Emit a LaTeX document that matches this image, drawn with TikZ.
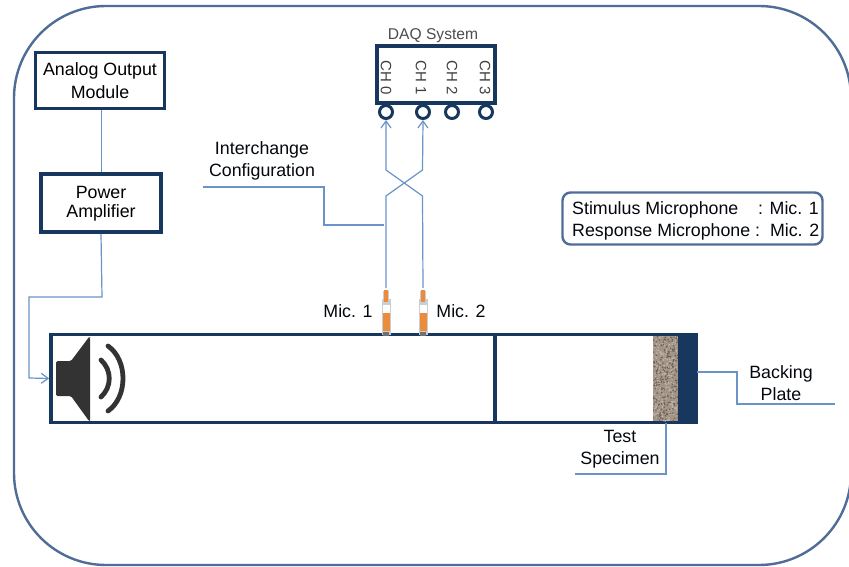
\documentclass[tikz,border=0pt]{standalone}
\usepackage{fontspec}
\setmainfont{Liberation Sans}
\usetikzlibrary{arrows.meta,calc}
\definecolor{navy}{HTML}{17375E}
\definecolor{frameblue}{HTML}{4F6D97}
\definecolor{wire}{HTML}{6A93C8}
\definecolor{mico}{HTML}{EC8B3C}
\definecolor{micg}{HTML}{C9CED3}
\definecolor{spk}{HTML}{333333}
\definecolor{specbase}{HTML}{A39485}
\tikzset{
  box/.style={draw=navy,line width=3.6pt,fill=white,minimum width=#1,inner sep=0pt,align=center,font=\fontsize{17.8}{22}\selectfont},
  conn/.style={draw=wire,line width=1.2pt},
  lab/.style={align=center,inner sep=0pt,text=black!85!navy,font=\fontsize{17.8}{22}\selectfont},
  chlab/.style={inner sep=0pt,rotate=-90,text=black!75,font=\fontsize{15}{16}\selectfont},
  port/.style={circle,draw=navy,line width=3pt,fill=white,minimum size=13pt,inner sep=0pt},
  arr/.style={-{Straight Barb[length=7pt,width=10pt,line width=1.2pt]}}
}
\begin{document}
\begin{tikzpicture}[x=1pt,y=-1pt]
\useasboundingbox (0,0) rectangle (849,567);
\fill[white] (0,0) rectangle (849,567);
% outer frame
\draw[frameblue,line width=2.4pt,rounded corners=92pt] (14,6) rectangle (851,565);
% boxes
\node[box=129pt,minimum height=56pt] (aom) at (100,80.5) {\raisebox{-1.5pt}{\shortstack[c]{\rule{0pt}{13pt}Analog Output\\[3pt]Module}}};
\node[box=120pt,minimum height=58pt] (amp) at (101,203) {\raisebox{-1.5pt}{\shortstack[c]{\rule{0pt}{13pt}Power\\[3pt]Amplifier}}};
\node[draw=navy,line width=3.6pt,fill=white,minimum width=118pt,minimum height=57pt,inner sep=0pt] (daq) at (436,74.5) {};
\node[lab,text=black!70,font=\fontsize{15.6}{16}\selectfont] (daqt) at (433,36) {DAQ System};
\node[chlab] (c0t) at (386,78) {CH 0};
\node[chlab] (c1t) at (421,78) {CH 1};
\node[chlab] (c2t) at (452,78) {CH 2};
\node[chlab] (c3t) at (485,78) {CH 3};
\node[port] (c0) at (386,112) {};
\node[port] (c1) at (423,112) {};
\node[port] (c2) at (452,112) {};
\node[port] (c3) at (486,112) {};
% legend
\node[draw=frameblue,line width=2.4pt,rounded corners=8pt,minimum width=260pt,minimum height=52pt,inner sep=0pt] (leg) at (692.5,218.5) {};
\node[lab,anchor=west,align=left] (legt) at (572,220.5) {Stimulus Microphone\ \ \ \ : Mic. 1\\Response Microphone :\ \ Mic. 2};
% tube
\node[draw=navy,line width=3.6pt,minimum width=645pt,minimum height=88pt,inner sep=0pt] (tube) at (373.5,378.5) {};
\coordinate (divt) at (495,334);
\coordinate (divb) at (495,423);
\draw[navy,line width=3.2pt] (divt) -- (divb);
% specimen
\begin{scope}
\clip (653,336) rectangle (678,421);
\fill[specbase] (653,336) rectangle (678,421);
\pgfmathsetseed{7}
\foreach \i in {1,...,420}{
  \pgfmathsetmacro{\px}{653+25*rnd}
  \pgfmathsetmacro{\py}{336+85*rnd}
  \pgfmathsetmacro{\sh}{rnd}
  \ifdim\sh pt<0.5pt
    \fill[black!35!specbase] (\px,\py) circle (0.9pt);
  \else
    \fill[white!30!specbase] (\px,\py) circle (0.9pt);
  \fi
}
\end{scope}
\fill[navy] (678,332.7) rectangle (697,424.3);
% speaker
\fill[spk,rounded corners=1.5pt] (56,361) -- (71,361) -- (89,337) -- (90,337) -- (90,421) -- (89,421) -- (71,396) -- (56,396) -- cycle;
\draw[spk,line width=4.8pt,line cap=round] (101,360) .. controls (112,370) and (112,387) .. (101,397);
\draw[spk,line width=4.8pt,line cap=round] (108,346) .. controls (128,360) and (128,397) .. (108,411);
% connectors
\coordinate (t1) at (102,297);
\coordinate (t2) at (29,297);
\coordinate (t3) at (29,378);
\draw[conn,line width=1pt] (aom.south -| amp.north) -- (amp.north);
\draw[conn,arr] (amp.south) -- (t1) -- (t2) -- (t3) -- (tube.west);
% microphones
\foreach \n/\x in {m1/386,m2/423}{
  \fill[micg] (\x-3,291) rectangle (\x+3,334);
  \fill[mico] (\x-2,290) rectangle (\x+1.5,303);
  \fill[micg] (\x-4.5,299) rectangle (\x+4.5,335);
  \fill[white] (\x-3.5,305) rectangle (\x+3.5,313);
  \fill[mico] (\x-3.5,313) rectangle (\x+3.5,331);
  \fill[mico] (\x-2,296) rectangle (\x+2,302);
  \fill[black!45!micg] (\x-3,332) rectangle (\x+3,336);
  \coordinate (\n) at (\x,288);
}
\coordinate (a1) at (386,196);
\coordinate (a2) at (422.5,196);
\coordinate (b1) at (386,170);
\coordinate (b2) at (422.5,170);
\draw[conn,arr] (m1) -- (a1) -- (b2) -- (c1.south);
\draw[conn,arr] (m2) -- (a2) -- (b1) -- (c0.south);
\coordinate (i0) at (203,187);
\coordinate (i1) at (324,187);
\coordinate (i2) at (324,225);
\coordinate (i3) at (384,225);
\draw[conn] (i0) -- (i1) -- (i2) -- (i3);
\coordinate (bp0) at (697,372);
\coordinate (bp1) at (737,372);
\coordinate (bp2) at (737,404);
\coordinate (bp3) at (835,404);
\draw[conn] (bp0) -- (bp1) -- (bp2) -- (bp3);
\coordinate (ts0) at (666,423);
\coordinate (ts1) at (666,474);
\coordinate (ts2) at (575,474);
\draw[conn] (ts0) -- (ts1) -- (ts2);
% labels
\node[lab] (il) at (262,161) {Interchange\\Configuration};
\node[lab] (ml1) at (348,311.5) {Mic. 1};
\node[lab] (ml2) at (461,311.5) {Mic. 2};
\node[lab] (bl) at (781,383) {Backing\\Plate};
\node[lab] (tl) at (620,449) {Test\\Specimen};
\end{tikzpicture}
\end{document}
